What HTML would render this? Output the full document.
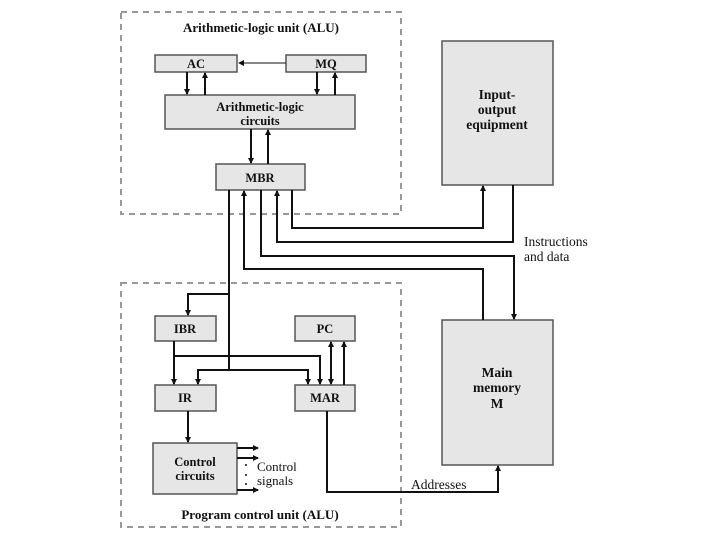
<!DOCTYPE html>
<html><head><style>body{margin:0;background:#fff}svg{display:block}text{font-family:"Liberation Serif",serif;font-weight:bold;fill:#111}</style></head>
<body>
<svg width="720" height="540" viewBox="0 0 720 540" xmlns="http://www.w3.org/2000/svg">
<defs><marker id="a" markerWidth="6" markerHeight="6" refX="5" refY="3" orient="auto" markerUnits="userSpaceOnUse"><path d="M0,0L6,3L0,6z" fill="#111"/></marker></defs>
<g fill="none" stroke="#999" stroke-width="2" stroke-dasharray="6,5">
<rect x="121" y="12" width="280" height="202"/>
<rect x="121" y="283" width="280" height="244"/>
</g>
<g fill="#e6e6e6" stroke="#555" stroke-width="1.5">
<rect x="155" y="55" width="82" height="17"/>
<rect x="286" y="55" width="80" height="17"/>
<rect x="165" y="95" width="190" height="34"/>
<rect x="216" y="164" width="89" height="26"/>
<rect x="442" y="41" width="111" height="144"/>
<rect x="442" y="320" width="111" height="145"/>
<rect x="155" y="316" width="61" height="25"/>
<rect x="295" y="316" width="60" height="25"/>
<rect x="155" y="385" width="61" height="26"/>
<rect x="295" y="385" width="60" height="26"/>
<rect x="153" y="443" width="84" height="51"/>
</g>
<g fill="none" stroke="#111" stroke-width="2">
<path d="M286,63H239" stroke-width="1" marker-end="url(#a)"/>
<path d="M187,72V94" marker-end="url(#a)"/>
<path d="M205,95V73" marker-end="url(#a)"/>
<path d="M317,72V94" marker-end="url(#a)"/>
<path d="M335,95V73" marker-end="url(#a)"/>
<path d="M251,129V163" marker-end="url(#a)"/>
<path d="M268,164V130" marker-end="url(#a)"/>
<path d="M229,190V370"/>
<path d="M483,320V269H244V191" marker-end="url(#a)"/>
<path d="M261,190V256H514V319" marker-end="url(#a)"/>
<path d="M513,185V242H277V191" marker-end="url(#a)"/>
<path d="M292,190V228H483V186" marker-end="url(#a)"/>
<path d="M229,294H188V315" marker-end="url(#a)"/>
<path d="M174,341V384" marker-end="url(#a)"/>
<path d="M174,356H320V384" marker-end="url(#a)"/>
<path d="M198,384V370H308V384" marker-end="url(#a)"/>
<path d="M198,371V384" marker-end="url(#a)"/>
<path d="M331,342V384" marker-end="url(#a)"/>
<path d="M331,384V342" marker-end="url(#a)"/>
<path d="M344,385V342" marker-end="url(#a)"/>
<path d="M188,411V442" marker-end="url(#a)"/>
<path d="M237,448H258" marker-end="url(#a)"/>
<path d="M237,458H258" marker-end="url(#a)"/>
<path d="M237,490H258" marker-end="url(#a)"/>
<path d="M327,411V492H498V466" marker-end="url(#a)"/>
</g>
<g fill="#111"><circle cx="246" cy="465" r="1"/><circle cx="246" cy="475" r="1"/><circle cx="246" cy="484" r="1"/></g>
<g font-size="12.5" text-anchor="middle">
<text x="261" y="32" font-size="13">Arithmetic-logic unit (ALU)</text>
<text x="196" y="68">AC</text>
<text x="326" y="68">MQ</text>
<text x="260" y="111">Arithmetic-logic</text>
<text x="260" y="125">circuits</text>
<text x="260" y="182">MBR</text>
<text x="497" y="99" font-size="13.5">Input-</text>
<text x="497" y="114" font-size="13.5">output</text>
<text x="497" y="129" font-size="13.5">equipment</text>
<text x="497" y="377" font-size="13.5">Main</text>
<text x="497" y="392" font-size="13.5">memory</text>
<text x="497" y="408" font-size="13.5">M</text>
<text x="185" y="333">IBR</text>
<text x="325" y="333">PC</text>
<text x="185" y="402">IR</text>
<text x="325" y="402">MAR</text>
<text x="195" y="466">Control</text>
<text x="195" y="480">circuits</text>
<text x="260" y="519" font-size="13">Program control unit (ALU)</text>
</g>
<g font-size="13">
<text x="257" y="471" style="font-weight:normal">Control</text>
<text x="257" y="485" style="font-weight:normal">signals</text>
<text x="524" y="246" style="font-weight:normal" font-size="13.5">Instructions</text>
<text x="524" y="261" style="font-weight:normal" font-size="13.5">and data</text>
<text x="411" y="489" style="font-weight:normal" font-size="13.5">Addresses</text>
</g>
</svg>
</body></html>
